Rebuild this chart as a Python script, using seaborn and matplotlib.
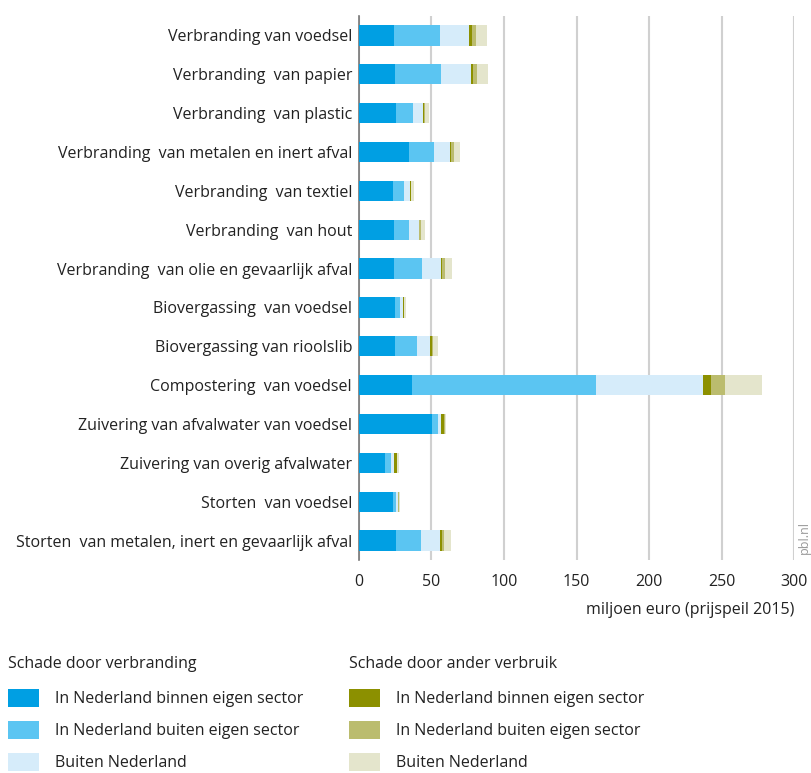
import pandas as pd
import seaborn as sns
import matplotlib.pyplot as plt
from matplotlib.patches import Patch

categories = [
    'Verbranding van voedsel',
    'Verbranding  van papier',
    'Verbranding  van plastic',
    'Verbranding  van metalen en inert afval',
    'Verbranding  van textiel',
    'Verbranding  van hout',
    'Verbranding  van olie en gevaarlijk afval',
    'Biovergassing  van voedsel',
    'Biovergassing van rioolslib',
    'Compostering  van voedsel',
    'Zuivering van afvalwater van voedsel',
    'Zuivering van overig afvalwater',
    'Storten  van voedsel',
    'Storten  van metalen, inert en gevaarlijk afval',
]

# schade door verbranding
verbr_nl_binnen = [24.2, 24.8, 25.5, 34.5, 23.5, 24.2, 24.2, 24.8, 24.8, 36.6, 50.4, 17.9, 23.5, 25.5]
verbr_nl_buiten = [31.7, 31.8, 11.8, 17.3, 7.6, 10.3, 19.3, 3.5, 15.2, 127.0, 4.1, 4.1, 2.0, 17.3]
verbr_buitenland = [20.0, 20.7, 6.9, 11.0, 4.1, 6.9, 13.1, 2.1, 9.0, 73.8, 2.1, 2.2, 1.4, 13.1]
# schade door ander verbruik
ander_nl_binnen = [2.1, 1.4, 0.3, 0.7, 0.7, 0.3, 0.7, 0.6, 1.2, 5.6, 2.1, 2.0, 0.2, 1.4]
ander_nl_buiten = [2.7, 2.7, 1.3, 2.1, 0.3, 1.1, 2.1, 0.3, 0.5, 9.6, 0.3, 0.3, 0.5, 1.4]
ander_buitenland = [7.6, 7.6, 2.8, 4.1, 1.8, 2.7, 4.8, 1.1, 3.6, 25.4, 1.1, 1.1, 0.7, 4.8]

labels = ['In Nederland binnen eigen sector', 'In Nederland buiten eigen sector', 'Buiten Nederland']
colors = ['#009FE3', '#5BC5F2', '#D6ECFA', '#8C9000', '#BBBC6E', '#E4E5CC']

df = pd.DataFrame({
    'cat': categories,
    's1': verbr_nl_binnen, 's2': verbr_nl_buiten, 's3': verbr_buitenland,
    's4': ander_nl_binnen, 's5': ander_nl_buiten, 's6': ander_buitenland,
})
series = ['s1', 's2', 's3', 's4', 's5', 's6']
cum = df[series].cumsum(axis=1)

sns.set_style('white')
plt.rcParams['font.family'] = ['Open Sans', 'DejaVu Sans']
plt.rcParams['font.size'] = 11.5
txt = '#222222'

fig = plt.figure(figsize=(8.12, 7.73), dpi=100)
ax = fig.add_axes([359 / 812, 1 - 560 / 773, 435 / 812, 544 / 773])

# stacked bars: draw cumulative totals from back to front
for s, c in reversed(list(zip(series, colors))):
    sns.barplot(x=cum[s], y=df['cat'], orient='h', color=c, width=0.52,
                saturation=1, ax=ax, zorder=3, edgecolor='none', linewidth=0)

ax.set_xlim(0, 300)
ax.set_ylim(13.5, -0.5)
ax.set_xticks(range(0, 301, 50))
ax.grid(axis='x', color='#d0d0d0', linewidth=1.5, zorder=0)
ax.grid(axis='y', visible=False)
for sp in ['top', 'right', 'bottom']:
    ax.spines[sp].set_visible(False)
ax.spines['left'].set_color('#777777')
ax.spines['left'].set_linewidth(1.2)
ax.tick_params(axis='both', length=0, labelsize=11.5, colors=txt)
ax.tick_params(axis='x', pad=10)
ax.tick_params(axis='y', pad=5)
ax.set_ylabel('')
ax.set_xlabel('')
fig.text(794 / 812, 1 - 610 / 773, 'miljoen euro (prijspeil 2015)', ha='right', va='center',
         fontsize=11.5, color=txt)
fig.text(804 / 812, 1 - 538 / 773, 'pbl.nl', rotation=90, ha='center', va='center',
         fontsize=9, color='#999999')

h1 = [Patch(facecolor=c, edgecolor='none') for c in colors[:3]]
h2 = [Patch(facecolor=c, edgecolor='none') for c in colors[3:]]
common = dict(frameon=False, fontsize=11.5, title_fontsize=11.5, handlelength=1.95,
              handleheight=1.4, handletextpad=1.0, labelspacing=0.85, alignment='left',
              borderaxespad=0, borderpad=0, labelcolor=txt)
l1 = fig.legend(h1, labels, title='Schade door verbranding', loc='upper left',
                bbox_to_anchor=(8 / 812, 1 - 656 / 773), **common)
l2 = fig.legend(h2, labels, title='Schade door ander verbruik', loc='upper left',
                bbox_to_anchor=(349 / 812, 1 - 656 / 773), **common)
for lg in (l1, l2):
    lg.get_title().set_color(txt)
    lg._legend_box.sep = 12

fig.savefig('out.png', dpi=100)
